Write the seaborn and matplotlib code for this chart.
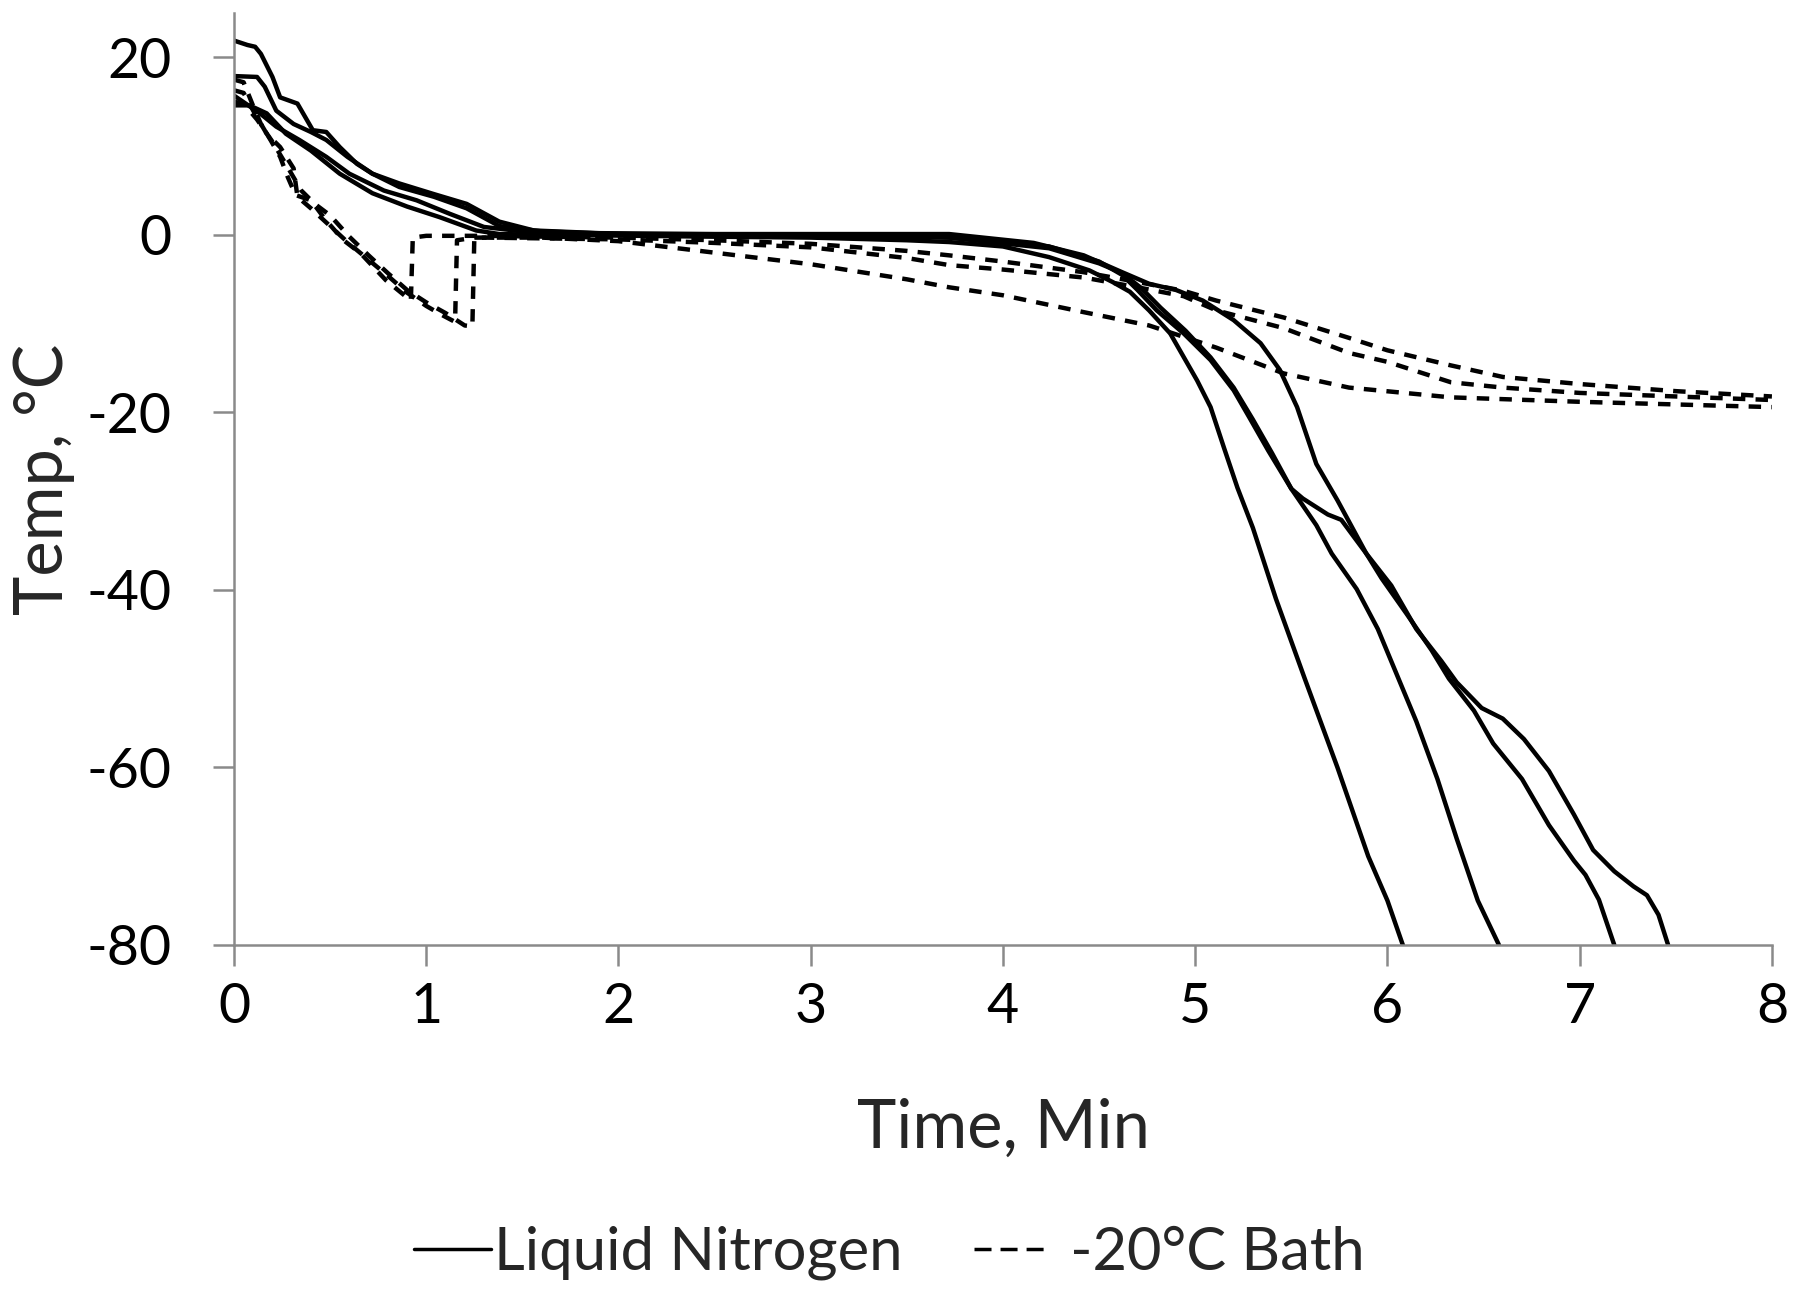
import matplotlib
matplotlib.use("Agg")
import matplotlib.pyplot as plt
from matplotlib.lines import Line2D
import pandas as pd
import seaborn as sns

# ---------------- data ----------------
# Liquid nitrogen runs (solid)
ln1_time = [0, 0.08, 0.17, 0.27, 0.40, 0.55, 0.72, 0.90, 1.07, 1.26, 1.38, 1.70, 2.5, 3.0, 3.5,
            3.72, 4.0, 4.24, 4.45, 4.57, 4.66, 4.76, 4.87, 5.01, 5.08, 5.15, 5.22, 5.30, 5.42,
            5.57, 5.74, 5.90, 6.00, 6.08]
ln1_temp = [14.6, 14.6, 13.7, 11.4, 9.5, 6.9, 4.7, 3.2, 2.0, 0.5, 0.1, 0.0, -0.2, -0.3, -0.6,
            -0.8, -1.3, -2.5, -4.0, -5.3, -6.4, -8.5, -11.1, -16.4, -19.4, -24.0, -28.5, -33.0, -41.0,
            -50.0, -60.0, -70.0, -75.0, -80.0]

ln2_time = [0, 0.135, 0.22, 0.34, 0.48, 0.60, 0.78, 0.95, 1.12, 1.30, 1.50, 1.80, 2.5, 3.0, 3.5,
            3.72, 4.24, 4.50, 4.62, 4.70, 4.80, 4.94, 5.08, 5.20, 5.28, 5.38, 5.50, 5.63, 5.71,
            5.84, 5.95, 6.05, 6.15, 6.26, 6.36, 6.47, 6.58]
ln2_temp = [15.7, 13.7, 12.2, 10.7, 8.8, 6.9, 5.0, 3.9, 2.4, 0.9, 0.4, 0.1, 0.0, -0.1, -0.2,
            -0.3, -1.3, -3.0, -4.5, -6.2, -8.5, -11.1, -14.1, -17.5, -20.5, -24.3, -28.6, -32.7, -35.9,
            -39.9, -44.4, -49.6, -54.8, -61.3, -68.0, -75.0, -80.0]

ln3_time = [0, 0.12, 0.16, 0.22, 0.31, 0.40, 0.48, 0.59, 0.72, 0.86, 1.04, 1.21, 1.38, 1.6, 2.0,
            2.5, 3.0, 3.5, 3.72, 4.24, 4.50, 4.62, 4.72, 4.82, 4.95, 5.08, 5.20, 5.30, 5.40, 5.50,
            5.56, 5.69, 5.76, 5.89, 5.97, 6.10, 6.23, 6.32, 6.45, 6.55, 6.70, 6.84, 6.97, 7.03,
            7.10, 7.18]
ln3_temp = [17.9, 17.8, 16.7, 14.0, 12.5, 11.6, 10.7, 8.8, 6.9, 5.4, 4.3, 3.0, 1.0, 0.4, 0.1,
            0.0, 0.0, -0.1, -0.3, -1.5, -3.2, -4.3, -6.0, -8.2, -10.8, -13.8, -17.2, -20.8, -24.6, -28.6,
            -29.7, -31.5, -32.1, -35.9, -38.7, -42.7, -46.8, -50.0, -53.6, -57.3, -61.3, -66.5, -70.5, -72.1,
            -74.9, -80.0]

ln4_time = [0, 0.07, 0.11, 0.14, 0.20, 0.24, 0.33, 0.41, 0.48, 0.55, 0.64, 0.72, 0.86, 1.04, 1.21,
            1.38, 1.56, 1.9, 2.5, 3.0, 3.5, 3.72, 4.16, 4.42, 4.62, 4.76, 4.90, 5.04, 5.20, 5.34,
            5.44, 5.53, 5.63, 5.74, 5.89, 6.02, 6.15, 6.28, 6.36, 6.49, 6.60, 6.71, 6.84, 6.97,
            7.07, 7.18, 7.28, 7.35, 7.41, 7.46]
ln4_temp = [21.9, 21.4, 21.2, 20.4, 17.8, 15.5, 14.8, 11.8, 11.6, 9.9, 8.0, 6.9, 5.8, 4.6, 3.5,
            1.5, 0.5, 0.2, 0.1, 0.1, 0.1, 0.1, -0.9, -2.3, -4.2, -5.5, -6.2, -7.4, -9.6, -12.2,
            -15.2, -19.4, -25.8, -29.9, -35.9, -39.5, -44.4, -48.0, -50.4, -53.3, -54.5, -56.8, -60.4, -65.3,
            -69.3, -71.7, -73.4, -74.4, -76.6, -80.0]

# -20 C bath runs (dashed)
bath1_time = [0, 0.05, 0.10, 0.14, 0.19, 0.24, 0.28, 0.32, 0.40, 0.48, 0.57, 0.66, 0.79, 0.92, 0.93,
              1.0, 1.2, 1.3, 2.0, 2.5, 3.0, 3.5, 3.72, 4.0, 4.42, 4.70, 4.94, 5.11, 5.46, 5.80,
              6.0, 6.33, 6.6, 7.0, 7.5, 8.0]
bath1_temp = [17.5, 17.2, 14.5, 12.5, 10.7, 8.8, 6.5, 4.5, 3.9, 1.6, -0.6, -2.1, -5.1, -7.4, -0.3,
              -0.1, -0.1, -0.1, -0.3, -0.6, -1.0, -1.8, -2.3, -3.0, -4.2, -5.3, -6.3, -7.4, -9.3, -11.6,
              -13.0, -14.7, -16.0, -16.8, -17.6, -18.2]

bath2_time = [0, 0.05, 0.10, 0.17, 0.24, 0.31, 0.33, 0.40, 0.50, 0.60, 0.70, 0.80, 0.90, 1.0, 1.08,
              1.15, 1.16, 1.25, 1.3, 1.6, 2.0, 2.5, 3.0, 3.5, 3.72, 4.0, 4.42, 4.76, 5.11, 5.46,
              5.80, 6.33, 7.0, 7.5, 8.0]
bath2_temp = [16.3, 16.0, 14.0, 11.4, 9.9, 7.5, 4.3, 3.0, 1.0, -1.0, -2.8, -4.6, -6.5, -8.0, -9.0,
              -9.8, -0.6, -0.3, -0.3, -0.3, -0.7, -2.0, -3.3, -5.0, -5.9, -6.8, -8.7, -10.2, -12.7, -15.6,
              -17.2, -18.3, -18.8, -19.1, -19.4]

bath3_time = [0, 0.05, 0.12, 0.20, 0.28, 0.35, 0.42, 0.50, 0.60, 0.70, 0.80, 0.90, 1.0, 1.1, 1.2,
              1.24, 1.25, 1.3, 2.0, 2.5, 3.0, 3.5, 3.72, 4.0, 4.42, 4.70, 4.94, 5.11, 5.46, 5.80,
              6.0, 6.33, 6.6, 7.0, 7.5, 8.0]
bath3_temp = [15.0, 14.8, 13.0, 10.5, 7.6, 5.0, 3.5, 2.2, -0.2, -2.3, -4.3, -6.2, -7.6, -8.8, -10.2,
              -10.3, -0.4, -0.3, -0.5, -0.9, -1.4, -2.6, -3.4, -3.9, -4.8, -5.9, -6.9, -8.5, -10.5, -13.3,
              -14.3, -16.6, -17.2, -17.8, -18.2, -18.6]

group_ln = "Liquid Nitrogen"
group_bath = "-20°C Bath"
x_ticks = [0, 1, 2, 3, 4, 5, 6, 7, 8]
y_ticks = [-80, -60, -40, -20, 0, 20]

curves = [
    ("LN1", group_ln, ln1_time, ln1_temp),
    ("LN2", group_ln, ln2_time, ln2_temp),
    ("LN3", group_ln, ln3_time, ln3_temp),
    ("LN4", group_ln, ln4_time, ln4_temp),
    ("B1", group_bath, bath1_time, bath1_temp),
    ("B2", group_bath, bath2_time, bath2_temp),
    ("B3", group_bath, bath3_time, bath3_temp),
]
rows = []
for name, grp, tt, TT in curves:
    for a, b in zip(tt, TT):
        rows.append({"curve": name, "group": grp, "time": a, "temp": b})
df = pd.DataFrame(rows)

# ---------------- styling ----------------
sns.set_theme(style="ticks")
plt.rcParams["font.family"] = ["Lato", "DejaVu Sans"]
plt.rcParams["axes.unicode_minus"] = False

fig = plt.figure(figsize=(18, 12.92), dpi=100)
ax = fig.add_axes([0.13, 0.2686, 0.8544, 0.7213])

dash_map = {group_ln: "", group_bath: (2.8, 2.3)}
sns.lineplot(data=df, x="time", y="temp", units="curve", estimator=None,
             style="group", dashes=dash_map, color="black", linewidth=3.2,
             sort=False, legend=False, ax=ax)

ax.set_xlim(0, 8)
ax.set_ylim(-80, 25)
ax.set_xticks(x_ticks)
ax.set_yticks(y_ticks)
sns.despine(ax=ax)
axis_grey = "#8a8a8a"
for s in ("left", "bottom"):
    ax.spines[s].set_color(axis_grey)
    ax.spines[s].set_linewidth(1.8)
ax.tick_params(axis="both", direction="out", length=15, width=1.8, color=axis_grey,
               labelsize=40, labelcolor="black")
ax.tick_params(axis="y", pad=30)
ax.tick_params(axis="x", pad=12)

ax.set_xlabel("Time, Min", fontsize=48, labelpad=46)
ax.set_ylabel("Temp, °C", fontsize=48, labelpad=8)

handles = [Line2D([], [], color="black", lw=2.5),
           Line2D([], [], color="black", lw=2.5, dashes=(4.9, 2.6))]
labels = [group_ln, " " + group_bath]
fig.legend(handles, labels, loc="center", bbox_to_anchor=(0.494, 0.030), ncol=2,
           frameon=False, fontsize=43, handlelength=1.3, handletextpad=0.05,
           columnspacing=1.2)

fig.savefig("out.png", dpi=100)
